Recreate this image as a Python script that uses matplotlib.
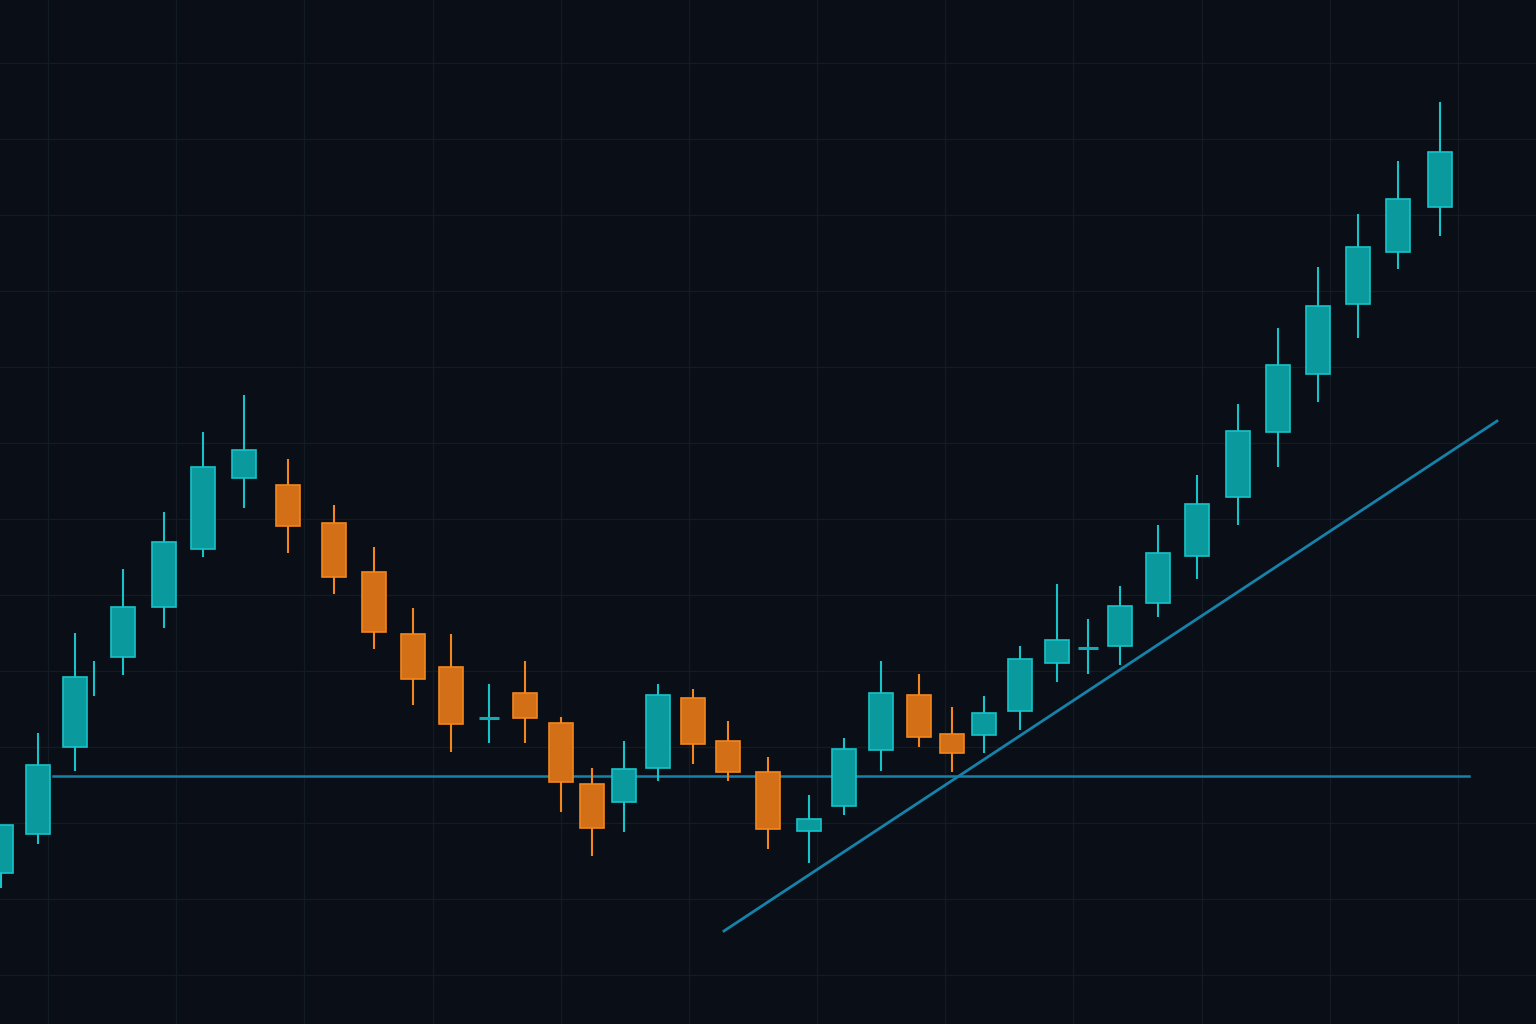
import numpy as np
import matplotlib
matplotlib.use("Agg")
import matplotlib.pyplot as plt

# candle positions (time axis) and OHLC prices
x_pos = [1, 38, 75, 123, 164, 203, 244, 288, 334, 374, 413, 451, 489, 525,
         561, 592, 624, 658, 693, 728, 768, 809, 844, 881, 919, 952, 984,
         1020, 1057, 1088, 1120, 1158, 1197, 1238, 1278, 1318, 1358, 1398, 1440]
opens = [83.42, 88.55, 100.00, 111.84, 118.42, 126.05, 135.39, 134.47, 129.47,
         123.03, 114.87, 110.53, 103.82, 107.11, 103.16, 95.13, 92.76, 97.24,
         106.45, 100.79, 96.71, 88.95, 92.24, 99.61, 106.84, 101.71, 101.58,
         104.74, 111.05, 113.03, 113.29, 118.95, 125.13, 132.89, 141.45, 149.08,
         158.29, 165.13, 171.05]
highs = [89.74, 101.84, 115.00, 123.42, 130.92, 141.45, 146.32, 137.89, 131.84,
         126.32, 118.29, 114.87, 108.29, 111.32, 103.95, 97.24, 100.79, 108.29,
         107.63, 103.42, 98.68, 93.68, 101.18, 111.32, 109.61, 105.26, 106.71,
         113.29, 121.45, 116.84, 121.18, 129.21, 135.79, 145.13, 155.13, 163.16,
         170.13, 177.11, 184.87]
lows = [81.45, 87.24, 96.84, 109.47, 115.66, 125.00, 131.45, 125.53, 120.13,
        112.89, 105.53, 99.34, 100.53, 100.53, 91.45, 85.66, 88.82, 95.53,
        97.76, 95.53, 86.58, 84.74, 91.05, 96.84, 100.00, 96.71, 99.21,
        102.24, 108.55, 109.61, 110.79, 117.11, 122.11, 129.21, 136.84, 145.39,
        153.82, 162.89, 167.24]
closes = [89.74, 97.63, 109.21, 118.42, 126.97, 136.84, 139.08, 129.08, 122.37,
          115.13, 108.95, 103.03, 103.82, 103.82, 95.39, 89.34, 97.11, 106.84,
          100.39, 96.71, 89.21, 90.53, 99.74, 107.11, 101.32, 99.21, 104.47,
          111.58, 114.08, 113.03, 118.55, 125.53, 131.97, 141.58, 150.26, 158.03,
          165.79, 172.11, 178.29]

# lone wick without a body
stray_x = [94]
stray_high = [111.32]
stray_low = [106.71]

# support level and rising trend line
support_x = [53, 1469]
support_y = [96.18, 96.18]
trend_x = [724, 1497]
trend_y = [75.79, 142.89]

BG = "#0a0e16"
GRID = "#131b25"
UP_FACE, UP_EDGE = "#0a9a9d", "#17c4ca"
DN_FACE, DN_EDGE = "#d26f17", "#f3861d"
LINE = "#1682aa"

fig = plt.figure(figsize=(15.36, 10.24), dpi=100, facecolor=BG)
ax = fig.add_axes([0, 0, 1, 1])
ax.set_facecolor(BG)

o = np.array(opens)
c = np.array(closes)
up = c >= o
x = np.array(x_pos)

for mask, face, edge in [(up, UP_FACE, UP_EDGE), (~up, DN_FACE, DN_EDGE)]:
    ax.vlines(x[mask], np.array(lows)[mask], np.array(highs)[mask],
              color=edge, lw=1.5, zorder=3)
    body = np.abs(c - o)[mask]
    doji = body < 0.05
    ax.bar(x[mask][~doji], body[~doji], bottom=np.minimum(o, c)[mask][~doji],
           width=24, color=face, edgecolor=edge, linewidth=1.2, zorder=4)
    if doji.any():
        ax.hlines(o[mask][doji], x[mask][doji] - 10, x[mask][doji] + 10,
                  color="#13a9b5", lw=2.2, zorder=4)

ax.vlines(stray_x, stray_low, stray_high, color=UP_EDGE, lw=1.5, zorder=3)

ax.plot(support_x, support_y, color=LINE, lw=1.8, zorder=2)
ax.plot(trend_x, trend_y, color=LINE, lw=2.0, zorder=5)

ax.set_xlim(0, 1536)
ax.set_ylim(63.55, 198.29)
ax.set_xticks(np.linspace(48, 1458, 12))
ax.set_yticks(np.arange(70, 191, 10))
ax.grid(True, color=GRID, lw=1.0)
ax.set_axisbelow(True)
ax.tick_params(length=0, labelbottom=False, labelleft=False)
for s in ax.spines.values():
    s.set_visible(False)

fig.savefig("out.png", dpi=100, facecolor=BG)
